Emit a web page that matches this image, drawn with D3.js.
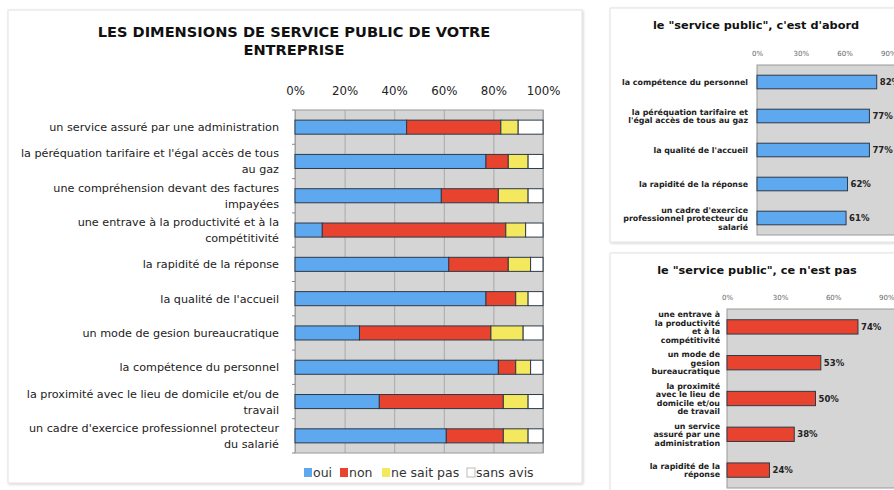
<!DOCTYPE html>
<html><head><meta charset="utf-8">
<script src="https://cdn.jsdelivr.net/npm/d3@7"></script>
<style>
html,body{margin:0;padding:0;background:#fff;overflow:hidden}
svg{display:block;font-family:"DejaVu Sans",Verdana,sans-serif}
</style></head><body>
<svg id="c" width="894" height="490"></svg>
<script>
// ---------- data ----------
const categories = [
  "un service assuré par une administration",
  "la péréquation tarifaire et l'égal accès de tous\nau gaz",
  "une compréhension devant des factures\nimpayées ",
  "une entrave à la productivité et à la\ncompétitivité",
  "la rapidité de la réponse",
  "la qualité de l'accueil",
  "un mode de gesion bureaucratique",
  "la compétence du personnel",
  "la proximité avec le lieu de domicile et/ou de\ntravail",
  "un cadre d'exercice professionnel protecteur\ndu salarié"
];
const oui      = [45, 77, 59, 11, 62, 77, 26, 82, 34, 61];
const non      = [38,  9, 23, 74, 24, 12, 53,  7, 50, 23];
const neSaitPas= [ 7,  8, 12,  8,  9,  5, 13,  6, 10, 10];
const sansAvis = [10,  6,  6,  7,  5,  6,  8,  5,  6,  6];
const seriesNames = ["oui", "non", "ne sait pas", "sans avis"];
const mainTicks = [0, 20, 40, 60, 80, 100];

const topCategories = [
  "la compétence du personnel",
  "la péréquation tarifaire et\nl'égal accès de tous au gaz",
  "la qualité de l'accueil",
  "la rapidité de la réponse",
  "un cadre d'exercice\nprofessionnel protecteur du\nsalarié"
];
const topValues = [82, 77, 77, 62, 61];

const bottomCategories = [
  "une entrave à\nla productivité\net à la\ncompétitivité",
  "un mode de\ngesion\nbureaucratique",
  "la proximité\navec le lieu de\ndomicile et/ou\nde travail",
  "un service\nassuré par une\nadministration",
  "la rapidité de la\nréponse"
];
const bottomValues = [74, 53, 50, 38, 24];
const smallTicks = [0, 30, 60, 90];

// ---------- styles ----------
const colors = ["#5ea8ef", "#e8432f", "#f3e85e", "#ffffff"];
const plotBg = "#d5d5d5";
const gridCol = "#a9a9a9";
const barStroke = "#2e3a48";

const svg = d3.select("#c");
const defs = svg.append("defs");
const f = defs.append("filter").attr("id","sh").attr("x","-5%").attr("y","-5%").attr("width","110%").attr("height","110%");
f.append("feDropShadow").attr("dx",1).attr("dy",1).attr("stdDeviation",1.2).attr("flood-color","#000").attr("flood-opacity",0.18);

function panel(x, y, w, h) {
  svg.append("rect").attr("x", x).attr("y", y).attr("width", w).attr("height", h)
    .attr("fill", "#fff").attr("stroke", "#e2e2e2").attr("stroke-width", 1).attr("filter","url(#sh)");
}

function multiline(sel, text, lh) {
  const lines = text.split("\n");
  const n = lines.length;
  lines.forEach((l, i) => {
    sel.append("tspan").attr("x", sel.attr("x")).attr("dy", i === 0 ? (-(n - 1) / 2 * lh) + "px" : lh + "px").text(l);
  });
}

// ---------- main chart ----------
panel(8, 10, 574, 473);

svg.append("text").attr("x", 294).attr("y", 37).attr("text-anchor", "middle")
  .attr("font-size", 14.6).attr("font-weight", "bold").attr("fill", "#111")
  .text("LES DIMENSIONS DE SERVICE PUBLIC DE VOTRE");
svg.append("text").attr("x", 294).attr("y", 55).attr("text-anchor", "middle")
  .attr("font-size", 14.6).attr("font-weight", "bold").attr("fill", "#111")
  .text("ENTREPRISE");

const x = d3.scaleLinear().domain([0, 100]).range([295, 543]);
const y = d3.scaleBand().domain(categories).range([110, 453]).paddingInner(0.59).paddingOuter(0.295);

svg.append("rect").attr("x", x(0)).attr("y", 110).attr("width", x(100) - x(0)).attr("height", 343)
  .attr("fill", plotBg);

const gx = svg.append("g").attr("transform", "translate(0,110)")
  .call(d3.axisTop(x).tickValues(mainTicks).tickFormat(d => d + "%").tickSize(-343).tickSizeOuter(0));
gx.select(".domain").remove();
gx.selectAll(".tick line").attr("stroke", gridCol);
gx.selectAll(".tick text").attr("font-size", 11.8).attr("fill", "#222").attr("dy", "-0.35em")
  .attr("transform","translate(0,-8)").attr("font-family", "DejaVu Sans, sans-serif");

// plot border
svg.append("rect").attr("x", x(0)).attr("y", 110).attr("width", x(100) - x(0)).attr("height", 343)
  .attr("fill", "none").attr("stroke", "#9a9a9a");

// category boundary ticks
const step = y.step();
svg.append("g").selectAll("line").data(d3.range(categories.length + 1)).join("line")
  .attr("x1", x(0) - 3).attr("x2", x(0))
  .attr("y1", i => 110 + i * step).attr("y2", i => 110 + i * step)
  .attr("stroke", "#888");

const stackData = categories.map((c, i) => ({ cat: c, oui: oui[i], non: non[i], nsp: neSaitPas[i], sa: sansAvis[i] }));
const stack = d3.stack().keys(["oui", "non", "nsp", "sa"])(stackData);
svg.append("g").selectAll("g").data(stack).join("g").attr("fill", (d, i) => colors[i])
  .selectAll("rect").data(d => d).join("rect")
  .attr("x", d => x(d[0])).attr("width", d => x(d[1]) - x(d[0]))
  .attr("y", d => y(d.data.cat)).attr("height", y.bandwidth())
  .attr("stroke", barStroke).attr("stroke-width", 1);

svg.append("g").selectAll("text").data(categories).join("text")
  .attr("x", 279).attr("y", d => y(d) + y.bandwidth() / 2)
  .attr("text-anchor", "end").attr("dominant-baseline", "central")
  .attr("font-size", 11.2).attr("fill", "#222")
  .each(function (d) { multiline(d3.select(this), d, 16); });

// legend
const legX = [304, 340, 382, 467];
const lg = svg.append("g");
seriesNames.forEach((n, i) => {
  lg.append("rect").attr("x", legX[i]).attr("y", 468).attr("width", 8).attr("height", 9)
    .attr("fill", colors[i]).attr("stroke", i === 3 ? "#bbb" : "none");
  lg.append("text").attr("x", legX[i] + 9).attr("y", 477).attr("font-size", 12.5).attr("fill", "#333").text(n);
});

// ---------- small charts ----------
function smallChart(opts) {
  panel(opts.px, opts.py, opts.pw, opts.ph);
  svg.append("text").attr("x", opts.tx).attr("y", opts.ty).attr("text-anchor", "middle")
    .attr("font-size", 11.3).attr("font-weight", "bold").attr("fill", "#111").text(opts.title);
  const sx = d3.scaleLinear().domain([0, 100]).range([opts.x0, opts.x0 + opts.ppu * 100]);
  const sy = d3.scaleBand().domain(opts.cats).range([opts.y0, opts.y1]).paddingInner(0.6).paddingOuter(0.3);
  svg.append("rect").attr("x", sx(0)).attr("y", opts.y0).attr("width", sx(100) - sx(0)).attr("height", opts.y1 - opts.y0)
    .attr("fill", plotBg).attr("stroke", "#9a9a9a");
  const a = svg.append("g").attr("transform", `translate(0,${opts.y0})`)
    .call(d3.axisTop(sx).tickValues(smallTicks).tickFormat(d => d + "%").tickSize(0));
  a.select(".domain").remove();
  a.selectAll(".tick text").attr("font-size", 7).attr("fill", "#666").attr("dy", 0).attr("y", -9)
    .attr("font-family", "DejaVu Sans, sans-serif");
  svg.append("g").selectAll("rect").data(opts.cats).join("rect")
    .attr("x", sx(0)).attr("y", d => sy(d)).attr("height", sy.bandwidth())
    .attr("width", (d, i) => sx(opts.vals[i]) - sx(0))
    .attr("fill", opts.color).attr("stroke", barStroke).attr("stroke-width", 1);
  svg.append("g").selectAll("text").data(opts.cats).join("text")
    .attr("x", (d, i) => sx(opts.vals[i]) + 3).attr("y", d => sy(d) + sy.bandwidth() / 2)
    .attr("dominant-baseline", "central").attr("font-size", 8.5).attr("font-weight", "bold").attr("fill", "#222")
    .text((d, i) => opts.vals[i] + "%");
  svg.append("g").selectAll("text").data(opts.cats).join("text")
    .attr("x", opts.lx).attr("y", d => sy(d) + sy.bandwidth() / 2)
    .attr("text-anchor", "end").attr("dominant-baseline", "central")
    .attr("font-size", 7.9).attr("font-weight", "bold").attr("fill", "#222")
    .each(function (d) { multiline(d3.select(this), d, 8.5); });
}

smallChart({
  px: 610, py: 8, pw: 300, ph: 234,
  title: "le \"service public\", c'est d'abord", tx: 756, ty: 29,
  x0: 757, ppu: 1.46, y0: 65, y1: 235, lx: 748,
  cats: topCategories, vals: topValues, color: colors[0]
});
smallChart({
  px: 610, py: 253, pw: 300, ph: 250,
  title: "le \"service public\", ce n'est pas", tx: 757, ty: 274,
  x0: 727, ppu: 1.77, y0: 309, y1: 488, lx: 720,
  cats: bottomCategories, vals: bottomValues, color: colors[1]
});
</script>
</body></html>
